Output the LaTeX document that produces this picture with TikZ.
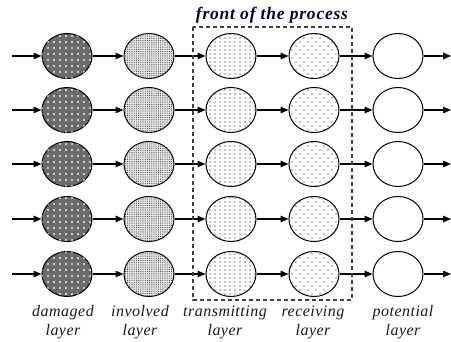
\documentclass[tikz,border=0pt]{standalone}
\usepackage{fontspec}
\setmainfont{Liberation Serif}
\newfontfamily\labfont[LetterSpace=3]{Liberation Serif}
\newfontfamily\titlefont[LetterSpace=4.5]{Liberation Serif}
\usetikzlibrary{shapes.geometric,arrows.meta,patterns}
\pgfdeclarepatternformonly{whiteplus}{\pgfqpoint{-1pt}{-1pt}}{\pgfqpoint{6pt}{6pt}}{\pgfqpoint{6pt}{6pt}}{%
  \pgfpathrectangle{\pgfqpoint{-0.9pt}{-0.3pt}}{\pgfqpoint{1.8pt}{0.6pt}}%
  \pgfpathrectangle{\pgfqpoint{-0.3pt}{-0.9pt}}{\pgfqpoint{0.6pt}{1.8pt}}%
  \pgfusepath{fill}}
\pgfdeclarepatternformonly{densedots}{\pgfqpoint{-1pt}{-1pt}}{\pgfqpoint{2pt}{2pt}}{\pgfqpoint{2.2pt}{2.2pt}}{%
  \pgfpathcircle{\pgfqpoint{0pt}{0pt}}{0.55pt}\pgfusepath{fill}}
\pgfdeclarepatternformonly{middots}{\pgfqpoint{-1pt}{-1pt}}{\pgfqpoint{4pt}{4pt}}{\pgfqpoint{5pt}{4pt}}{%
  \pgfpathcircle{\pgfqpoint{0pt}{0pt}}{0.55pt}\pgfusepath{fill}}
\pgfdeclarepatternformonly{sparsedots}{\pgfqpoint{-1pt}{-1pt}}{\pgfqpoint{8pt}{8pt}}{\pgfqpoint{8pt}{8pt}}{%
  \pgfpathcircle{\pgfqpoint{0pt}{0pt}}{0.55pt}%
  \pgfpathcircle{\pgfqpoint{4pt}{4pt}}{0.55pt}\pgfusepath{fill}}
\tikzset{
  layer/.style={ellipse, draw=black, line width=1pt, minimum width=50pt, minimum height=45pt, inner sep=0pt},
  damaged/.style={layer, fill=black!58, postaction={pattern=whiteplus, pattern color=white}},
  involved/.style={layer, fill=black!10, postaction={pattern=densedots, pattern color=black!75}},
  transmit/.style={layer, fill=white, postaction={pattern=middots, pattern color=black}},
  receive/.style={layer, fill=white, postaction={pattern=sparsedots, pattern color=black}},
  potential/.style={layer, fill=white},
  arr/.style={line width=1.3pt, -{Triangle[length=8pt,width=6.5pt]}},
  lab/.style={font=\labfont\itshape\fontsize{16}{19}\selectfont, align=center, text=black!90},
  frontbox/.style={dashed, dash pattern=on 4pt off 3pt, line width=1.1pt, draw=black!75},
  title/.style={font=\titlefont\bfseries\itshape\fontsize{17.5}{20}\selectfont, text=black!80!blue}
}
\begin{document}
\begin{tikzpicture}[x=1pt,y=-1pt]
\useasboundingbox (0,0) rectangle (451,342);
\foreach \r/\y in {1/56,2/110,3/164,4/219,5/274}{
  \coordinate (s\r) at (12,\y);
  \coordinate (e\r) at (451,\y);
  \node[damaged] (d\r) at (67,\y) {};
  \node[involved] (i\r) at (149,\y) {};
  \node[transmit] (t\r) at (231,\y) {};
  \node[receive] (c\r) at (314,\y) {};
  \node[potential] (p\r) at (398,\y) {};
  \draw[arr] (s\r) -- (d\r);
  \draw[arr] (d\r) -- (i\r);
  \draw[arr] (i\r) -- (t\r);
  \draw[arr] (t\r) -- (c\r);
  \draw[arr] (c\r) -- (p\r);
  \draw[arr] (p\r) -- (e\r);
}
\draw[frontbox] (193,27) rectangle (352,300);
\node[title] (ttl) at (272,15) {front of the process};
\node[lab] (l1) at (63,322) {damaged\\layer};
\node[lab] (l2) at (140,322) {involved\\layer};
\node[lab] (l3) at (225,322) {transmitting\\layer};
\node[lab] (l4) at (313,322) {receiving\\layer};
\node[lab] (l5) at (403,322) {potential\\layer};
\end{tikzpicture}
\end{document}
